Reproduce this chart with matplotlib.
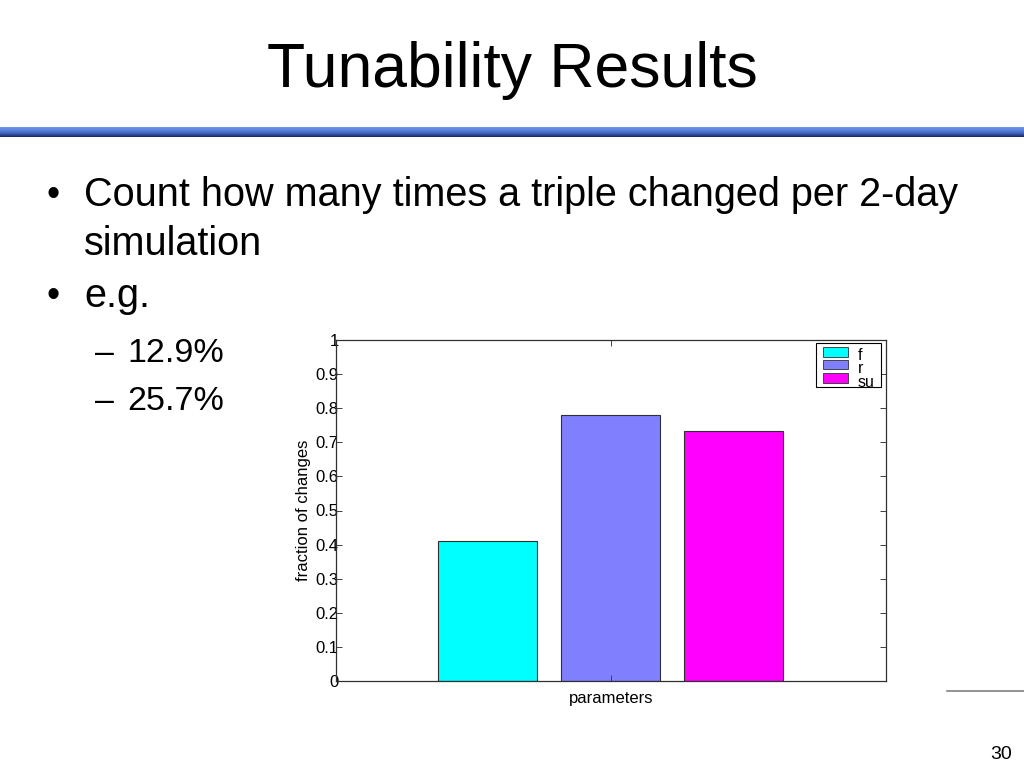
import matplotlib
matplotlib.use("Agg")
import matplotlib.pyplot as plt
import numpy as np
from matplotlib.patches import Rectangle
from matplotlib.colors import LinearSegmentedColormap

plt.rcParams['font.family'] = ['Liberation Sans', 'DejaVu Sans']

# Data
params = ['f', 'r', 'su']
fractions = [0.41, 0.78, 0.733]
colors = ['#00FFFF', '#8080FF', '#FF00FF']
yticks = [0, 0.1, 0.2, 0.3, 0.4, 0.5, 0.6, 0.7, 0.8, 0.9, 1]
ytick_labels = ['0', '0.1', '0.2', '0.3', '0.4', '0.5', '0.6', '0.7', '0.8', '0.9', '1']

W, H = 1024, 768
fig = plt.figure(figsize=(W / 100, H / 100), dpi=100)

def fx(px):
    return px / W

def fy(py):
    return 1 - py / H

# Title
fig.text(fx(512), fy(87), 'Tunability Results', ha='center', va='baseline', fontsize=45, color='black')

# Gradient rule under title
gax = fig.add_axes([0, fy(137), 1, (137 - 127) / H])
grad = np.linspace(0, 1, 10).reshape(-1, 1)
cmap = LinearSegmentedColormap.from_list('rule', ['#6a93ea', '#5a80dc', '#3d5fb5', '#1c2c66'])
gax.imshow(grad, aspect='auto', cmap=cmap, extent=[0, 1, 0, 1])
gax.axis('off')

# Bullets
fs = 28.5
fss = 24.5
fig.text(fx(46), fy(206), '•', fontsize=27, va='baseline')
fig.text(fx(84), fy(206), 'Count how many times a triple changed per 2-day', fontsize=fs, va='baseline')
fig.text(fx(84), fy(255), 'simulation', fontsize=fs, va='baseline')
fig.text(fx(46), fy(307), '•', fontsize=27, va='baseline')
fig.text(fx(84), fy(307), 'e.g.', fontsize=fs, va='baseline')
fig.text(fx(95), fy(362), '–', fontsize=fss, va='baseline')
fig.text(fx(127), fy(362), '12.9%', fontsize=fss, va='baseline')
fig.text(fx(95), fy(410), '–', fontsize=fss, va='baseline')
fig.text(fx(127), fy(410), '25.7%', fontsize=fss, va='baseline')

# Chart
ax = fig.add_axes([fx(336), fy(681), fx(886) - fx(336), (681 - 340) / H])
xpos = np.arange(1, len(params) + 1)
ax.bar(xpos, fractions, width=0.8, color=colors, edgecolor='#303030', linewidth=0.8)
ax.set_xlim(-0.232, 4.24)
ax.set_ylim(0, 1)
ax.set_yticks(yticks)
ax.set_yticklabels(ytick_labels)
ax.set_xticks([2])
ax.set_xticklabels([''])
ax.tick_params(axis='both', direction='in', length=4, width=0.7, color='#404040',
               top=True, right=True, labelsize=12, pad=-1)
ax.tick_params(axis='y', pad=-2)
for sp in ax.spines.values():
    sp.set_linewidth(0.9)
    sp.set_color('#303030')
ax.set_ylabel('fraction of changes', fontsize=12, labelpad=3)
ax.set_xlabel('parameters', fontsize=12, labelpad=7)

# Legend (MATLAB-style, compact)
ax.add_patch(Rectangle((0.8727, 0.862), 0.991 - 0.8727, 0.991 - 0.862, transform=ax.transAxes,
                       facecolor='white', edgecolor='black', linewidth=0.8, zorder=5))
row_y = [0.9663, 0.9282, 0.8886]
for i, (lab, c) in enumerate(zip(params, colors)):
    ax.add_patch(Rectangle((0.8855, row_y[i] - 0.0147), 0.931 - 0.8855, 0.0293,
                           transform=ax.transAxes, facecolor=c, edgecolor='#303030',
                           linewidth=0.6, zorder=6))
    ax.text(0.949, row_y[i] - 0.012, lab, transform=ax.transAxes, fontsize=11.5,
            va='center', ha='left', zorder=7)

# Bottom-right rule and page number
fig.add_artist(plt.Line2D([fx(947), fx(1024)], [fy(691), fy(691)], color='#808080', linewidth=1.2))
fig.text(fx(1001), fy(759), '30', ha='center', va='baseline', fontsize=14)

fig.savefig('out.png', dpi=100)
